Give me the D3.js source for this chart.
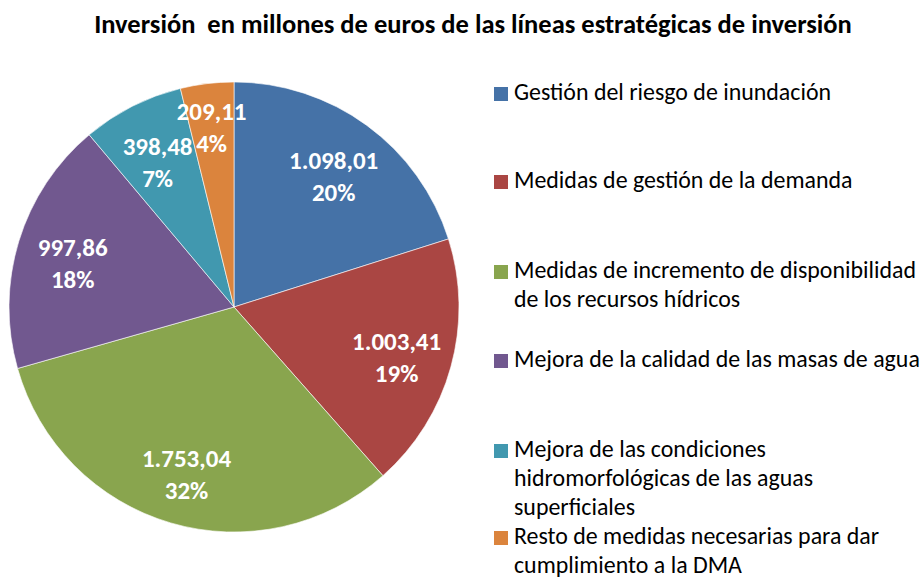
<!DOCTYPE html>
<html><head><meta charset="utf-8">
<script src="https://cdn.jsdelivr.net/npm/d3@7"></script>
<style>body{margin:0;background:#fff}svg{display:block}</style>
</head><body>
<svg id="c" width="924" height="579"></svg>
<script>
const categories = [
  "Gestión del riesgo de inundación",
  "Medidas de gestión de la demanda",
  "Medidas de incremento de disponibilidad de los recursos hídricos",
  "Mejora de la calidad de las masas de agua",
  "Mejora de las condiciones hidromorfológicas de las aguas superficiales",
  "Resto de medidas necesarias para dar cumplimiento a la DMA"
];
const legendLines = [
  ["Gestión del riesgo de inundación"],
  ["Medidas de gestión de la demanda"],
  ["Medidas de incremento de disponibilidad", "de los recursos hídricos"],
  ["Mejora de la calidad de las masas de agua"],
  ["Mejora de las condiciones", "hidromorfológicas de las aguas", "superficiales"],
  ["Resto de medidas necesarias para dar", "cumplimiento a la DMA"]
];
const values = [1098.01, 1003.41, 1753.04, 997.86, 398.48, 209.11];
const valueLabels = ["1.098,01", "1.003,41", "1.753,04", "997,86", "398,48", "209,11"];
const pctLabels = ["20%", "19%", "32%", "18%", "7%", "4%"];
const colors = ["#4572A7", "#AA4643", "#89A54E", "#71588F", "#4198AF", "#DB843D"];
const title = "Inversión  en millones de euros de las líneas estratégicas de inversión";

const svg = d3.select("#c");
const font = "Carlito, Calibri, Lato, 'Open Sans', sans-serif";

svg.append("text").attr("x", 473).attr("y", 33).attr("text-anchor", "middle")
  .attr("font-family", font).attr("font-weight", "bold").attr("font-size", 26.5)
  .attr("fill", "#000").style("white-space", "pre").text(title);

const cx = 234, cy = 307, R = 225;
const pie = d3.pie().sort(null).value(d => d);
const arcs = pie(values);
const arc = d3.arc().innerRadius(0).outerRadius(R);
const g = svg.append("g").attr("transform", `translate(${cx},${cy})`);
g.selectAll("path").data(arcs).join("path")
  .attr("d", arc).attr("fill", (d, i) => colors[i])
  .attr("stroke", "#fff").attr("stroke-width", 0.6);

// narrow slices get their labels pushed outward (best-fit style)
const labelR = d => (d.endAngle - d.startAngle) < 0.35 ? R * 0.83 : R * 0.75;
const lg = g.selectAll("g.lbl").data(arcs).join("g").attr("class", "lbl")
  .attr("transform", d => {
    const r = labelR(d);
    const [x, y] = d3.arc().innerRadius(r).outerRadius(r).centroid(d);
    return `translate(${x},${y})`;
  });
lg.append("text").attr("text-anchor", "middle").attr("y", -2)
  .attr("font-family", font).attr("font-weight", "bold").attr("font-size", 25).attr("fill", "#fff")
  .text((d, i) => valueLabels[i]);
lg.append("text").attr("text-anchor", "middle").attr("y", 30)
  .attr("font-family", font).attr("font-weight", "bold").attr("font-size", 25).attr("fill", "#fff")
  .text((d, i) => pctLabels[i]);

const legendY = [100, 188, 278, 367, 457, 544];
const leg = svg.append("g");
legendLines.forEach((lines, i) => {
  leg.append("rect").attr("x", 494).attr("y", legendY[i] - 13).attr("width", 14).attr("height", 14).attr("fill", colors[i]);
  const t = leg.append("text").attr("x", 514).attr("y", legendY[i])
    .attr("font-family", font).attr("font-size", 23.9).attr("fill", "#000");
  lines.forEach((l, j) => t.append("tspan").attr("x", 514).attr("dy", j ? 29 : 0).text(l));
});
</script>
</body></html>
